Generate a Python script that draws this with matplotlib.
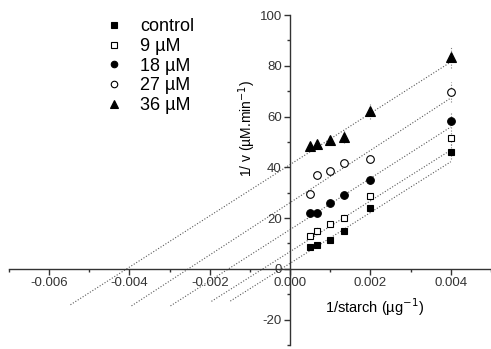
import numpy as np
import matplotlib
matplotlib.use("Agg")
import matplotlib.pyplot as plt
from matplotlib.ticker import MultipleLocator, FormatStrFormatter

plt.rcParams['font.family'] = ['Liberation Sans', 'DejaVu Sans']
plt.rcParams['axes.unicode_minus'] = False

# 1/[starch] values (ug^-1)
inv_starch = [0.0005, 0.000667, 0.001, 0.00133, 0.002, 0.004]

labels = ['control', '9 µM', '18 µM', '27 µM', '36 µM']
control = [8.5, 9.3, 11.5, 15.0, 23.9, 46.1]
inh_9 = [13.0, 15.1, 17.6, 20.2, 28.7, 51.7]
inh_18 = [21.9, 22.0, 26.1, 28.9, 34.9, 58.4]
inh_27 = [29.4, 37.0, 38.6, 41.6, 43.3, 69.8]
inh_36 = [48.5, 49.1, 50.8, 52.1, 62.2, 83.3]

err_control = [1.0, 1.0, 1.2, 1.2, 1.5, 3.0]
err_9 = [1.0, 1.2, 1.2, 1.5, 1.5, 3.0]
err_18 = [1.0, 1.0, 1.2, 1.2, 1.5, 3.0]
err_27 = [1.2, 1.5, 1.5, 1.5, 1.5, 4.0]
err_36 = [1.5, 1.5, 2.0, 2.5, 3.0, 4.0]

# Lineweaver-Burk fit lines
fit_slope = [10000, 10000, 10100, 10300, 10100]
fit_intercept = [2.2, 6.8, 15.5, 26.1, 41.1]
fit_start = [-0.00149, -0.00196, -0.00298, -0.00395, -0.00547]

series = [control, inh_9, inh_18, inh_27, inh_36]
errors = [err_control, err_9, err_18, err_27, err_36]
markers = [('s', 'black', 5), ('s', 'white', 5), ('o', 'black', 5.5),
           ('o', 'white', 5.5), ('^', 'black', 6.5)]

fig = plt.figure(figsize=(4.91, 3.49), dpi=100)
ax = fig.add_axes([9 / 491, 4 / 349, 482 / 491, 330 / 349])

x = np.array(inv_starch)
for i, (y, err, (m, fc, ms), lab) in enumerate(zip(series, errors, markers, labels)):
    xf = np.array([fit_start[i], x[-1]])
    ax.plot(xf, fit_slope[i] * xf + fit_intercept[i], color='0.35', lw=0.8,
            ls=(0, (1, 1.6)), zorder=1)
    eb = ax.errorbar(x, y, yerr=err, fmt='none', ecolor='0.5', elinewidth=0.8,
                     capsize=0, zorder=2)
    eb[2][0].set_linestyle((0, (1, 1.5)))
    ax.plot(x, y, ls='none', marker=m, mfc=fc, mec='black', mew=0.8, ms=ms,
            label=lab, zorder=3)

ax.set_xlim(-0.007, 0.005)
ax.set_ylim(-30, 100)

ax.spines['left'].set_position('zero')
ax.spines['bottom'].set_position('zero')
ax.spines['top'].set_color('none')
ax.spines['right'].set_color('none')
for s in ['left', 'bottom']:
    ax.spines[s].set_linewidth(1.0)
    ax.spines[s].set_color('0.2')

ax.xaxis.set_major_locator(MultipleLocator(0.002))
ax.xaxis.set_minor_locator(MultipleLocator(0.001))
ax.xaxis.set_major_formatter(FormatStrFormatter('%.3f'))
ax.yaxis.set_major_locator(MultipleLocator(20))
ax.yaxis.set_minor_locator(MultipleLocator(10))
ax.tick_params(axis='both', which='major', labelsize=9.5, length=4, width=1,
               direction='out', colors='0.2', pad=2)
ax.tick_params(axis='both', which='minor', length=2.5, width=1,
               direction='out', colors='0.2')

ax.text(0.0021, -15, '1/starch (µg$^{-1}$)', fontsize=10.5, ha='center', va='center')
ax.text(-0.00107, 55.3, '1/ v (µM.min$^{-1}$)', fontsize=10, ha='center',
        va='center', rotation=90)

ax.legend(loc='upper left', bbox_to_anchor=(89 / 491, 1 - 11 / 349),
          bbox_transform=fig.transFigure, frameon=False, fontsize=13,
          numpoints=1, handlelength=2, handletextpad=0.45, labelspacing=0.15,
          borderaxespad=0, markerscale=0.85)

fig.savefig('out.png', dpi=100)
